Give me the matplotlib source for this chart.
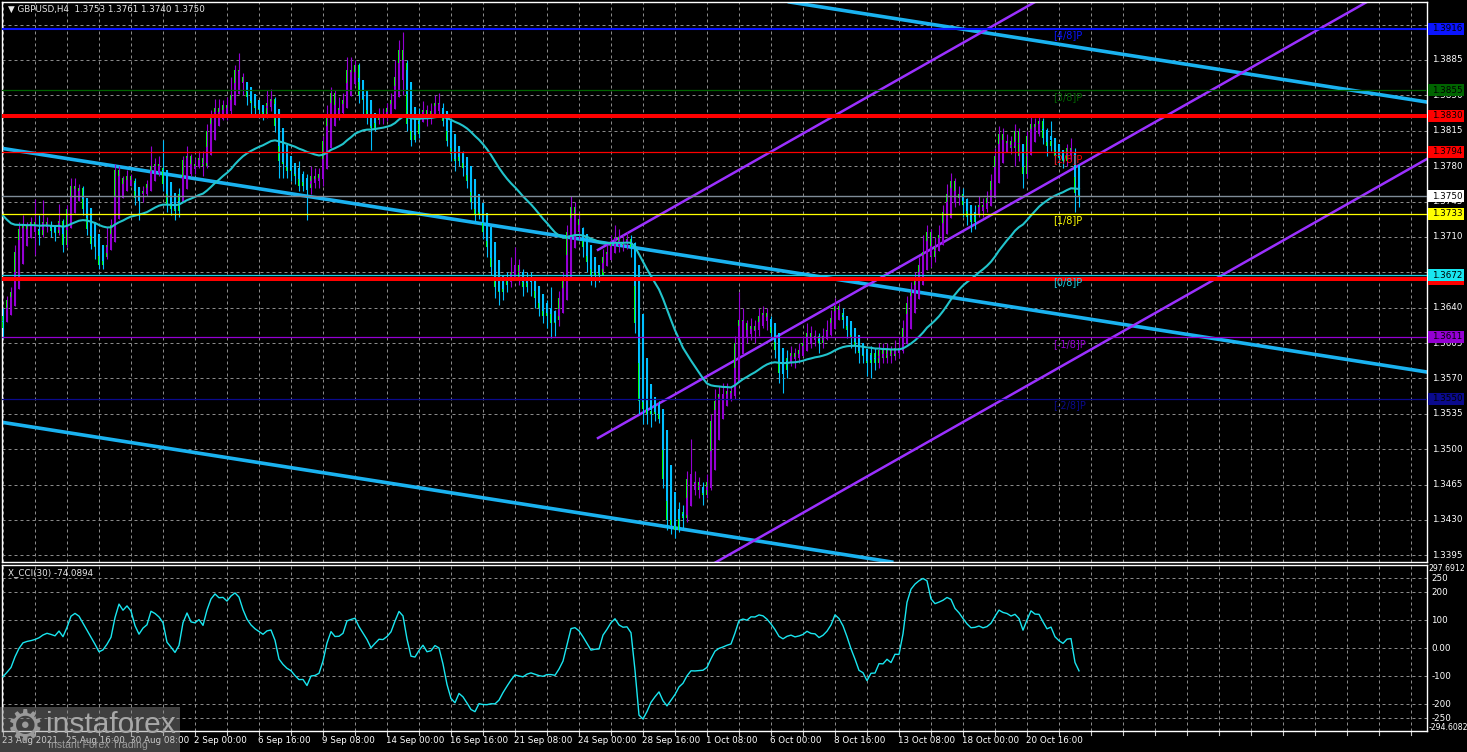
import numpy as np
import matplotlib
matplotlib.use("Agg")
import matplotlib.pyplot as plt
import matplotlib.transforms as mtransforms
from matplotlib.patches import Rectangle

W, H = 1467, 752

# GBPUSD H4, 23 Aug 2021 00:00 .. 22 Oct 2021 20:00, bar index 0..269
# open of each bar = close of the bar before it
first_open = 1.3620
close_ = [
    1.3632, 1.3648, 1.3655, 1.3695, 1.3718, 1.3722,
    1.3715, 1.3725, 1.3718, 1.3712, 1.3725, 1.3722,
    1.3716, 1.3714, 1.3726, 1.3702, 1.3738, 1.3760,
    1.3755, 1.3758, 1.3738, 1.3718, 1.3703, 1.3700,
    1.3682, 1.3690, 1.3702, 1.3722, 1.3776, 1.3768,
    1.3760, 1.3770, 1.3765, 1.3748, 1.3752, 1.3755,
    1.3762, 1.3780, 1.3782, 1.3778, 1.3762, 1.3742,
    1.3738, 1.3736, 1.3752, 1.3786, 1.3790, 1.3778,
    1.3782, 1.3788, 1.3780, 1.3815, 1.3830, 1.3838,
    1.3832, 1.3840, 1.3835, 1.3850, 1.3875, 1.3868,
    1.3862, 1.3848, 1.3842, 1.3838, 1.3836, 1.3832,
    1.3842, 1.3846, 1.3820, 1.3785, 1.3782, 1.3775,
    1.3775, 1.3770, 1.3760, 1.3768, 1.3758, 1.3770,
    1.3765, 1.3772, 1.3805, 1.3832, 1.3852, 1.3830,
    1.3838, 1.3845, 1.3875, 1.3868, 1.3880, 1.3850,
    1.3845, 1.3830, 1.3818, 1.3826, 1.3832, 1.3830,
    1.3838, 1.3845, 1.3868, 1.3895, 1.3882, 1.3822,
    1.3806, 1.3812, 1.3830, 1.3836, 1.3828, 1.3835,
    1.3842, 1.3838, 1.3825, 1.3805, 1.3792, 1.3785,
    1.3790, 1.3778, 1.3765, 1.3745, 1.3732, 1.3735,
    1.3715, 1.3700, 1.3680, 1.3660, 1.3655, 1.3662,
    1.3668, 1.3675, 1.3682, 1.3670, 1.3660, 1.3668,
    1.3665, 1.3650, 1.3640, 1.3632, 1.3640, 1.3625,
    1.3628, 1.3650, 1.3668, 1.3715, 1.3740, 1.3728,
    1.3715, 1.3700, 1.3685, 1.3672, 1.3678, 1.3672,
    1.3690, 1.3695, 1.3705, 1.3710, 1.3702, 1.3705,
    1.3708, 1.3700, 1.3625, 1.3548, 1.3540, 1.3535,
    1.3538, 1.3535, 1.3530, 1.3470, 1.3430, 1.3425,
    1.3420, 1.3438, 1.3432, 1.3470, 1.3465, 1.3468,
    1.3460, 1.3455, 1.3468, 1.3528, 1.3548, 1.3555,
    1.3552, 1.3558, 1.3555, 1.3605, 1.3628, 1.3625,
    1.3615, 1.3622, 1.3618, 1.3632, 1.3635, 1.3628,
    1.3615, 1.3598, 1.3575, 1.3578, 1.3590, 1.3595,
    1.3590, 1.3598, 1.3605, 1.3615, 1.3608, 1.3612,
    1.3605, 1.3612, 1.3618, 1.3630, 1.3642, 1.3635,
    1.3628, 1.3618, 1.3610, 1.3602, 1.3595, 1.3592,
    1.3585, 1.3595, 1.3585, 1.3598, 1.3590, 1.3598,
    1.3592, 1.3600, 1.3598, 1.3620, 1.3645, 1.3655,
    1.3668, 1.3682, 1.3695, 1.3715, 1.3690, 1.3700,
    1.3712, 1.3735, 1.3752, 1.3765, 1.3748, 1.3752,
    1.3742, 1.3730, 1.3725, 1.3735, 1.3742, 1.3738,
    1.3748, 1.3765, 1.3790, 1.3812, 1.3800, 1.3805,
    1.3798, 1.3815, 1.3790, 1.3772, 1.3810, 1.3822,
    1.3818, 1.3825, 1.3808, 1.3800, 1.3805, 1.3790,
    1.3788, 1.3785, 1.3798, 1.3792, 1.3753, 1.3750,
]
high_ = [
    1.3640, 1.3652, 1.3660, 1.3702, 1.3725, 1.3732,
    1.3725, 1.3730, 1.3747, 1.3732, 1.3746, 1.3730,
    1.3726, 1.3722, 1.3743, 1.3728, 1.3742, 1.3768,
    1.3768, 1.3762, 1.3760, 1.3745, 1.3725, 1.3712,
    1.3705, 1.3695, 1.3720, 1.3728, 1.3782, 1.3780,
    1.3770, 1.3776, 1.3772, 1.3768, 1.3756, 1.3760,
    1.3766, 1.3800, 1.3788, 1.3790, 1.3806, 1.3770,
    1.3760, 1.3750, 1.3758, 1.3790, 1.3800, 1.3792,
    1.3788, 1.3795, 1.3795, 1.3822, 1.3836, 1.3846,
    1.3846, 1.3845, 1.3848, 1.3868, 1.3880, 1.3892,
    1.3872, 1.3862, 1.3855, 1.3848, 1.3844, 1.3840,
    1.3855, 1.3856, 1.3848, 1.3825, 1.3800, 1.3792,
    1.3790, 1.3782, 1.3785, 1.3775, 1.3772, 1.3780,
    1.3778, 1.3778, 1.3810, 1.3840, 1.3858, 1.3855,
    1.3848, 1.3852, 1.3888, 1.3888, 1.3885, 1.3882,
    1.3858, 1.3845, 1.3835, 1.3830, 1.3838, 1.3838,
    1.3842, 1.3852, 1.3885, 1.3905, 1.3913, 1.3885,
    1.3830, 1.3822, 1.3838, 1.3844, 1.3840, 1.3842,
    1.3850, 1.3852, 1.3842, 1.3830, 1.3810, 1.3798,
    1.3800, 1.3795, 1.3782, 1.3770, 1.3750, 1.3742,
    1.3738, 1.3720, 1.3705, 1.3685, 1.3668, 1.3670,
    1.3675, 1.3690, 1.3700, 1.3688, 1.3678, 1.3675,
    1.3675, 1.3670, 1.3658, 1.3648, 1.3648, 1.3660,
    1.3638, 1.3656, 1.3675, 1.3722, 1.3750, 1.3745,
    1.3735, 1.3720, 1.3705, 1.3692, 1.3686, 1.3682,
    1.3698, 1.3702, 1.3712, 1.3722, 1.3718, 1.3712,
    1.3715, 1.3712, 1.3705, 1.3632, 1.3572, 1.3555,
    1.3558, 1.3545, 1.3548, 1.3535, 1.3475, 1.3450,
    1.3440, 1.3448, 1.3445, 1.3478, 1.3510, 1.3478,
    1.3472, 1.3468, 1.3475, 1.3535, 1.3560, 1.3562,
    1.3565, 1.3565, 1.3562, 1.3612, 1.3655, 1.3640,
    1.3628, 1.3630, 1.3628, 1.3640, 1.3642, 1.3640,
    1.3632, 1.3620, 1.3602, 1.3588, 1.3598, 1.3602,
    1.3600, 1.3605, 1.3612, 1.3625, 1.3622, 1.3618,
    1.3615, 1.3620, 1.3628, 1.3638, 1.3650, 1.3645,
    1.3640, 1.3632, 1.3625, 1.3618, 1.3608, 1.3602,
    1.3598, 1.3602, 1.3600, 1.3605, 1.3605, 1.3605,
    1.3602, 1.3608, 1.3610, 1.3628, 1.3652, 1.3665,
    1.3675, 1.3690, 1.3712, 1.3722, 1.3718, 1.3710,
    1.3722, 1.3742, 1.3762, 1.3773, 1.3768, 1.3760,
    1.3758, 1.3748, 1.3738, 1.3742, 1.3750, 1.3748,
    1.3755, 1.3772, 1.3798, 1.3820, 1.3818, 1.3812,
    1.3810, 1.3822, 1.3818, 1.3795, 1.3815, 1.3830,
    1.3828, 1.3832, 1.3828, 1.3818, 1.3825, 1.3808,
    1.3796, 1.3795, 1.3802, 1.3808, 1.3798, 1.3761,
]
low_ = [
    1.3610, 1.3628, 1.3638, 1.3650, 1.3690, 1.3705,
    1.3708, 1.3712, 1.3692, 1.3702, 1.3710, 1.3715,
    1.3710, 1.3706, 1.3712, 1.3695, 1.3700, 1.3730,
    1.3745, 1.3748, 1.3732, 1.3712, 1.3698, 1.3688,
    1.3678, 1.3678, 1.3688, 1.3698, 1.3720, 1.3755,
    1.3752, 1.3758, 1.3760, 1.3742, 1.3727, 1.3745,
    1.3750, 1.3758, 1.3772, 1.3770, 1.3755, 1.3735,
    1.3732, 1.3727, 1.3730, 1.3748, 1.3775, 1.3770,
    1.3772, 1.3778, 1.3770, 1.3778, 1.3805, 1.3820,
    1.3820, 1.3826, 1.3826, 1.3830, 1.3845, 1.3860,
    1.3850, 1.3840, 1.3832, 1.3830, 1.3828, 1.3826,
    1.3828, 1.3835, 1.3814, 1.3768, 1.3768, 1.3768,
    1.3765, 1.3762, 1.3755, 1.3755, 1.3727, 1.3752,
    1.3758, 1.3758, 1.3760, 1.3800, 1.3826, 1.3825,
    1.3826, 1.3832, 1.3840, 1.3860, 1.3860, 1.3842,
    1.3832, 1.3822, 1.3796, 1.3815, 1.3822, 1.3822,
    1.3825, 1.3832, 1.3840, 1.3860, 1.3850, 1.3815,
    1.3800, 1.3804, 1.3808, 1.3825, 1.3820, 1.3822,
    1.3830, 1.3832, 1.3820, 1.3800, 1.3785, 1.3775,
    1.3780, 1.3770, 1.3758, 1.3738, 1.3725, 1.3728,
    1.3708, 1.3690, 1.3672, 1.3650, 1.3643, 1.3648,
    1.3655, 1.3660, 1.3670, 1.3662, 1.3652, 1.3655,
    1.3652, 1.3640, 1.3632, 1.3625, 1.3620, 1.3610,
    1.3612, 1.3622, 1.3645, 1.3662, 1.3710, 1.3720,
    1.3708, 1.3690, 1.3675, 1.3662, 1.3660, 1.3665,
    1.3675, 1.3684, 1.3690, 1.3698, 1.3695, 1.3696,
    1.3698, 1.3690, 1.3615, 1.3535, 1.3525, 1.3525,
    1.3522, 1.3528, 1.3526, 1.3462, 1.3420, 1.3416,
    1.3412, 1.3418, 1.3422, 1.3428, 1.3455, 1.3455,
    1.3452, 1.3445, 1.3452, 1.3460, 1.3520, 1.3540,
    1.3545, 1.3545, 1.3548, 1.3550, 1.3600, 1.3615,
    1.3605, 1.3608, 1.3605, 1.3612, 1.3620, 1.3618,
    1.3608, 1.3590, 1.3565, 1.3556, 1.3570, 1.3582,
    1.3580, 1.3585, 1.3592, 1.3600, 1.3600, 1.3602,
    1.3595, 1.3600, 1.3608, 1.3612, 1.3625, 1.3628,
    1.3620, 1.3610, 1.3600, 1.3595, 1.3585, 1.3585,
    1.3572, 1.3570, 1.3578, 1.3580, 1.3585, 1.3585,
    1.3585, 1.3588, 1.3590, 1.3595, 1.3618, 1.3640,
    1.3650, 1.3662, 1.3678, 1.3690, 1.3680, 1.3685,
    1.3700, 1.3705, 1.3730, 1.3745, 1.3740, 1.3742,
    1.3730, 1.3722, 1.3715, 1.3718, 1.3730, 1.3730,
    1.3735, 1.3742, 1.3762, 1.3785, 1.3792, 1.3795,
    1.3792, 1.3780, 1.3785, 1.3758, 1.3768, 1.3805,
    1.3808, 1.3810, 1.3802, 1.3790, 1.3795, 1.3782,
    1.3782, 1.3778, 1.3780, 1.3785, 1.3735, 1.3740,
]

# moving average: EMA(40) of close, starting from the value read at the first bar
ma_period = 40
ma_start = 1.3731
# CCI(30) for the first 29 bars, where the 30 bar
# window reaches back before the visible history
cci_head = [-101, -85, -68, -30, 0, 20, 25, 28, 32, 38, 48, 54, 50, 45, 62,
            42, 75, 115, 125, 115, 90, 65, 40, 15, -12, -5, 15, 40, 110]

date_labels = ["23 Aug 2021", "25 Aug 16:00", "30 Aug 08:00", "2 Sep 00:00",
               "6 Sep 16:00", "9 Sep 08:00", "14 Sep 00:00", "16 Sep 16:00",
               "21 Sep 08:00", "24 Sep 00:00", "28 Sep 16:00", "1 Oct 08:00",
               "6 Oct 00:00", "8 Oct 16:00", "13 Oct 08:00", "18 Oct 00:00",
               "20 Oct 16:00"]
bars_per_label = 16
bars_per_grid = 8

price_ticks = [1.3395, 1.3430, 1.3465, 1.3500, 1.3535, 1.3570, 1.3605, 1.3640,
               1.3675, 1.3710, 1.3745, 1.3780, 1.3815, 1.3850, 1.3885, 1.3920]
hidden_ticks = [1.3675, 1.3920]   # covered by price boxes on the chart
cci_ticks = [250, 200, 100, 0, -100, -200, -250]
cci_tick_text = ["250", "200", "100", "0.00", "-100", "-200", "-250"]
cci_max, cci_min = 297.6912, -294.6082

# murrey math levels: label, price, colour
murrey = [("[4/8]P", 1.3916, "#0a14ff"), ("[3/8]P", 1.3855, "#006400"),
          ("[2/8]P", 1.3794, "#ff0000"), ("[1/8]P", 1.3733, "#ffff00"),
          ("[0/8]P", 1.3672, "#19d2e6"), ("[-1/8]P", 1.3611, "#9400d3"),
          ("[-2/8]P", 1.3550, "#0a0a8c")]
red_levels = [1.3830, 1.3668]
bid = 1.3750

# price boxes on the right scale: price, face colour, show text (drawn in order)
boxes = [(1.3916, "#0a14ff", True), (1.3855, "#006400", True),
         (1.3830, "#ff0000", True), (1.3794, "#ff0000", True),
         (1.3750, "#ffffff", True), (1.3733, "#ffff00", True),
         (1.3668, "#ff0000", False), (1.3672, "#19e6f0", True),
         (1.3611, "#9400d3", True), (1.3550, "#0a0a8c", True)]

# trend channel (blue) and rising channel (purple): two anchor points (bar, price)
blue_lines = [((249.25, 1.39097), (356.0, 1.38434)),
              ((-0.75, 1.37979), (356.0, 1.35763)),
              ((-0.75, 1.35269), (220.5, 1.33894))]
purple_rays = [((148.75, 1.36972), (258.0, 1.39424)),
               ((148.75, 1.35110), (258.0, 1.37562)),
               ((148.75, 1.33220), (258.0, 1.35672))]

x_min, x_max = -0.25, 356.0
p_min, p_max = 1.338836, 1.394238

PURPLE = "#9400d3"
SKY = "#00bfff"
LIME = "#00ff00"
GRID = "#8a8a8a"
FS = 6.3


def px_box(left, top, width, height):
    return [left / W, 1 - (top + height) / H, width / W, height / H]


def main():
    c = np.array(close_)
    h = np.array(high_)
    l = np.array(low_)
    o = np.concatenate([[first_open], c[:-1]])
    n = len(c)
    x = np.arange(n)

    # heiken ashi overlay
    ha_c = (o + h + l + c) / 4
    ha_o = np.zeros(n)
    ha_o[0] = (o[0] + c[0]) / 2
    for i in range(1, n):
        ha_o[i] = (ha_o[i - 1] + ha_c[i - 1]) / 2
    ha_h = np.maximum(h, np.maximum(ha_o, ha_c))
    ha_l = np.minimum(l, np.minimum(ha_o, ha_c))

    # EMA and CCI(30)
    alpha = 2 / (ma_period + 1)
    ma = np.zeros(n)
    ma[0] = ma_start
    for i in range(1, n):
        ma[i] = ma[i - 1] + alpha * (c[i] - ma[i - 1])
    tp = (h + l + c) / 3
    cci = list(cci_head)
    for i in range(len(cci_head), n):
        w = tp[i - 29:i + 1]
        m = w.mean()
        md = np.abs(w - m).mean()
        cci.append((tp[i] - m) / (0.015 * md))
    cci = np.array(cci)

    fig = plt.figure(figsize=(W / 100, H / 100), dpi=100, facecolor="black")
    ax = fig.add_axes(px_box(2, 2, 1425, 560))
    ax2 = fig.add_axes(px_box(2, 565, 1425, 166))

    for a in (ax, ax2):
        a.set_facecolor("black")
        a.set_xlim(x_min, x_max)
        a.set_xticks([])
        a.set_yticks([])
        for s in a.spines.values():
            s.set_color("white")
            s.set_linewidth(1)
        for g in range(0, int(x_max) + 1, bars_per_grid):
            a.axvline(g, color=GRID, lw=0.72, ls=(0, (3, 3)), zorder=0)

    ax.set_ylim(p_min, p_max)
    ax2.set_ylim(cci_min, cci_max)
    for p in price_ticks:
        ax.axhline(p, color=GRID, lw=0.72, ls=(0, (3, 3)), zorder=0)
    for v in cci_ticks:
        ax2.axhline(v, color=GRID, lw=0.72, ls=(0, (3, 3)), zorder=0)

    # channels
    for (x0, y0), (x1, y1) in blue_lines:
        ax.axline((x0, y0), (x1, y1), color="#1ab2f0", lw=2.6, zorder=2)
    for (x0, y0), (x1, y1) in purple_rays:
        xe = 420.0
        ye = y0 + (y1 - y0) * (xe - x0) / (x1 - x0)
        ax.plot([x0, xe], [y0, ye], color="#9b30ff", lw=1.8, zorder=2)

    # real candle bodies, then heiken ashi wicks and bodies over them
    body_lo = np.minimum(o, c)
    body_h = np.maximum(np.abs(c - o), 0.00008)
    ax.bar(x, body_h, bottom=body_lo, width=0.74, color=LIME, lw=0, zorder=3)
    up = ha_c >= ha_o
    cols = np.where(up, PURPLE, SKY)
    ax.vlines(x, ha_l, ha_h, colors=cols, lw=0.8, zorder=4)
    ha_lo = np.minimum(ha_o, ha_c)
    ha_hgt = np.maximum(np.abs(ha_c - ha_o), 0.00008)
    ax.bar(x, ha_hgt, bottom=ha_lo, width=0.74, color=cols, lw=0, zorder=4)

    ax.plot(x, ma, color="#22c4cc", lw=1.5, zorder=5)

    # horizontal levels
    for lab, p, col in murrey:
        ax.axhline(p, color=col, lw=1.5 if p == 1.3916 else 0.9, zorder=6)
        ax.text(262.5, p - 0.00068, lab, color=col, fontsize=7, va="center",
                ha="left", zorder=7)
    for p in red_levels:
        ax.axhline(p, color="#ff0000", lw=2.9, zorder=6)
    ax.axhline(bid, color="#7f8c98", lw=1.0, zorder=6)

    # right price scale
    tr = mtransforms.blended_transform_factory(ax.transAxes, ax.transData)
    for p in price_ticks:
        if p in hidden_ticks:
            continue
        ax.text(1.0035, p, f"{p:.4f}", transform=tr, color="white",
                fontsize=FS, va="center", ha="left", clip_on=False)
    bh = 12 / 10108
    for p, col, show in boxes:
        ax.add_patch(Rectangle((1.0007, p - bh / 2), 0.0253, bh, transform=tr,
                               facecolor=col, edgecolor="none", clip_on=False,
                               zorder=10))
        if show:
            ax.text(1.0035, p, f"{p:.4f}", transform=tr, color="black",
                    fontsize=FS, va="center", ha="left", clip_on=False,
                    zorder=11)

    ax.text(0.004, 0.986, "\u25bc GBPUSD,H4  1.3753 1.3761 1.3740 1.3750",
            transform=ax.transAxes, color="#e8e8e8", fontsize=FS, va="center",
            ha="left", zorder=12)

    # CCI panel
    ax2.plot(x, cci, color="#19e6f0", lw=1.0, zorder=3)
    tr2 = mtransforms.blended_transform_factory(ax2.transAxes, ax2.transData)
    for v, t in zip(cci_ticks, cci_tick_text):
        ax2.text(1.0030, v, t, transform=tr2, color="white", fontsize=FS,
                 va="center", ha="left", clip_on=False)
    ax2.text(1.0012, cci_max - 14, f"{cci_max:.4f}", transform=tr2,
             color="white", fontsize=5.6, va="center", ha="left",
             clip_on=False)
    ax2.text(1.0012, cci_min + 12, f"{cci_min:.4f}", transform=tr2,
             color="white", fontsize=5.6, va="center", ha="left",
             clip_on=False)
    ax2.text(0.004, 0.955, "X_CCI(30) -74.0894", transform=ax2.transAxes,
             color="#e8e8e8", fontsize=FS, va="center", ha="left")

    # time axis
    tx = mtransforms.blended_transform_factory(ax2.transData, ax2.transAxes)
    for g in range(0, int(x_max) + 1, bars_per_grid):
        ax2.plot([g, g], [0, -0.024], transform=tx, color="#c8c8c8", lw=0.8,
                 clip_on=False)
    for j, lab in enumerate(date_labels):
        ax2.text(j * bars_per_label - 0.3, -0.055, lab, transform=tx,
                 color="white", fontsize=FS, va="center", ha="left",
                 clip_on=False)

    # instaforex watermark
    fig.patches.append(Rectangle((0, 0), 180 / W, 45 / H,
                                 transform=fig.transFigure,
                                 facecolor=(0.55, 0.55, 0.55, 0.45),
                                 edgecolor="none", zorder=20))
    fig.text(25 / W, 1 - 727 / H, "\u2699", color="#9a9a9a", fontsize=31,
             ha="center", va="center", zorder=21)
    fig.text(46 / W, 1 - 725 / H, "instaforex", color="#a8a8a8",
             fontsize=21.5, family="Liberation Sans", ha="left", va="center",
             zorder=21)
    fig.text(48 / W, 1 - 745 / H, "Instant Forex Trading", color="#9a9a9a",
             fontsize=7.6, family="Liberation Sans", ha="left", va="center",
             zorder=21)

    fig.savefig("out.png", dpi=100, facecolor="black")


if __name__ == "__main__":
    main()
